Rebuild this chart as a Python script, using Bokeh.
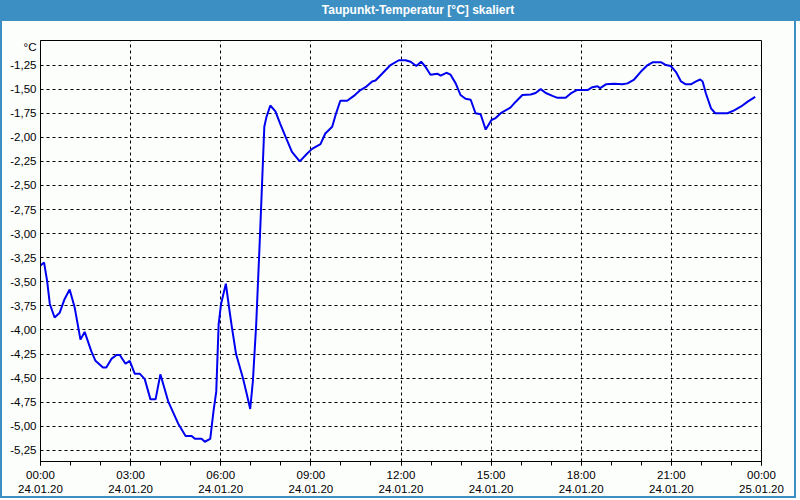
import pandas as pd
from bokeh.plotting import figure
from bokeh.models import (Range1d, FixedTicker, DatetimeTickFormatter, Div)
from bokeh.layouts import column
from bokeh.embed import file_html
from bokeh.resources import INLINE

title_text = "Taupunkt-Temperatur [°C] skaliert"
unit_text = "°C"
start_day = "2020-01-24"

hours = [0.00, 0.12, 0.22, 0.31, 0.47, 0.64, 0.80, 0.97, 1.14, 1.33, 1.47, 1.69, 1.83, 2.08, 2.19,
         2.36, 2.53, 2.64, 2.83, 2.97, 3.14, 3.31, 3.47, 3.66, 3.83, 3.99, 4.25, 4.58, 4.83, 5.03,
         5.14, 5.36, 5.47, 5.65, 5.76, 5.85, 5.93, 6.01, 6.17, 6.26, 6.37, 6.51, 6.74, 6.87, 6.98,
         7.07, 7.18, 7.29, 7.37, 7.45, 7.52, 7.65, 7.82, 7.98, 8.18, 8.37, 8.63, 8.87, 9.04, 9.32,
         9.48, 9.71, 9.82, 9.98, 10.21, 10.43, 10.65, 10.82, 11.04, 11.15, 11.37, 11.65, 11.93, 12.15,
         12.32, 12.51, 12.67, 12.82, 12.98, 13.21, 13.32, 13.51, 13.65, 13.82, 13.98, 14.15, 14.32,
         14.48, 14.65, 14.82, 15.01, 15.15, 15.32, 15.65, 15.82, 16.04, 16.32, 16.48, 16.65, 16.82,
         17.04, 17.21, 17.48, 17.65, 17.85, 18.21, 18.37, 18.54, 18.63, 18.82, 19.09, 19.37, 19.54,
         19.76, 19.98, 20.21, 20.39, 20.65, 20.82, 20.98, 21.15, 21.32, 21.48, 21.65, 21.82, 21.96,
         22.04, 22.15, 22.32, 22.46, 22.87, 23.09, 23.32, 23.54, 23.79]

dewpoint = [-3.33, -3.30, -3.49, -3.73, -3.87, -3.82, -3.68, -3.58, -3.77, -4.10, -4.02, -4.22, -4.32, -4.39, -4.39,
            -4.30, -4.26, -4.26, -4.35, -4.32, -4.455, -4.455, -4.51, -4.72, -4.72, -4.46, -4.74, -4.97, -5.10, -5.10,
            -5.13, -5.13, -5.16, -5.13, -4.84, -4.64, -3.94, -3.73, -3.52, -3.73, -3.97, -4.25, -4.50, -4.67, -4.82,
            -4.53, -3.94, -3.14, -2.52, -1.89, -1.79, -1.67, -1.73, -1.86, -2.01, -2.15, -2.25, -2.17, -2.12, -2.07,
            -1.96, -1.89, -1.77, -1.62, -1.62, -1.57, -1.51, -1.48, -1.42, -1.41, -1.34, -1.25, -1.20, -1.20,
            -1.215, -1.26, -1.215, -1.27, -1.35, -1.34, -1.36, -1.33, -1.35, -1.44, -1.56, -1.60, -1.61,
            -1.75, -1.76, -1.92, -1.82, -1.80, -1.75, -1.69, -1.63, -1.56, -1.555, -1.54, -1.50, -1.54,
            -1.57, -1.59, -1.59, -1.545, -1.51, -1.51, -1.48, -1.47, -1.49, -1.45, -1.445, -1.45, -1.44,
            -1.40, -1.32, -1.25, -1.22, -1.22, -1.25, -1.26, -1.32, -1.42, -1.45, -1.45, -1.42, -1.40,
            -1.42, -1.545, -1.70, -1.75, -1.75, -1.72, -1.68, -1.63, -1.58]

y_ticks = [-5.25, -5.00, -4.75, -4.50, -4.25, -4.00, -3.75, -3.50, -3.25, -3.00, -2.75, -2.50,
           -2.25, -2.00, -1.75, -1.50, -1.25]
y_tick_labels = ["-5,25", "-5,00", "-4,75", "-4,50", "-4,25", "-4,00", "-3,75", "-3,50", "-3,25",
                 "-3,00", "-2,75", "-2,50", "-2,25", "-2,00", "-1,75", "-1,50", "-1,25"]
unit_tick = -1.06
x_major_hours = [0, 3, 6, 9, 12, 15, 18, 21, 24]
x_minor_hours = list(range(0, 25))

base = pd.Timestamp(start_day)
times = [base + pd.Timedelta(hours=h) for h in hours]

def ms(h):
    return (base + pd.Timedelta(hours=h)).value / 1e6

FONT = "Liberation Sans"
BG = "#fcfefc"
BLUE_BAR = "#3c8fc3"

p = figure(width=796, height=477, x_axis_type="datetime", output_backend="svg",
           toolbar_location=None, margin=0,
           x_range=Range1d(ms(0), ms(24)), y_range=Range1d(-5.365, -0.995),
           min_border_left=38, min_border_right=37, min_border_top=19, min_border_bottom=37,
           background_fill_color=BG, border_fill_color=BG,
           styles={"border-left": f"2px solid {BLUE_BAR}", "border-right": f"2px solid {BLUE_BAR}",
                   "border-bottom": f"2px solid {BLUE_BAR}"})

p.line(times, dewpoint, line_color="#0000f0", line_width=2)

p.outline_line_color = "black"
p.outline_line_width = 1

# x axis
xt = FixedTicker(ticks=[ms(h) for h in x_major_hours], minor_ticks=[ms(h) for h in x_minor_hours])
p.xaxis.ticker = xt
fmt = "%H:%M\n%d.%m.%y"
p.xaxis.formatter = DatetimeTickFormatter(milliseconds=fmt, seconds=fmt, minsec=fmt, minutes=fmt,
                                          hourmin=fmt, hours=fmt, days=fmt, months=fmt, years=fmt,
                                          context=None)
p.xaxis.major_tick_out = 4
p.xaxis.major_tick_in = 0
p.xaxis.minor_tick_out = 4
p.xaxis.minor_tick_in = 0
p.xaxis.major_label_standoff = 3
p.xaxis.major_label_text_font = FONT
p.xaxis.major_label_text_font_size = "11.5px"
p.xaxis.major_label_text_color = "black"
p.xaxis.axis_line_color = "black"
p.xaxis.major_tick_line_color = "black"
p.xaxis.minor_tick_line_color = "black"

# y axis (the unit sign sits on an extra tick above the top grid line)
p.yaxis.ticker = FixedTicker(ticks=y_ticks + [unit_tick], minor_ticks=[])
overrides = {t: l for t, l in zip(y_ticks, y_tick_labels)}
overrides[unit_tick] = unit_text
p.yaxis.major_label_overrides = overrides
p.yaxis.major_tick_out = 0
p.yaxis.major_tick_in = 0
p.yaxis.minor_tick_out = 0
p.yaxis.minor_tick_in = 0
p.yaxis.major_label_standoff = 4
p.yaxis.major_label_text_font = FONT
p.yaxis.major_label_text_font_size = "11.5px"
p.yaxis.major_label_text_color = "black"
p.yaxis.axis_line_color = "black"

# grid
p.xgrid.ticker = FixedTicker(ticks=[ms(h) for h in x_major_hours])
for g in (p.xgrid, p.ygrid):
    g.grid_line_color = "black"
    g.grid_line_dash = "3 3"
    g.grid_line_width = 1
p.ygrid.ticker = FixedTicker(ticks=y_ticks)

title = Div(text=title_text, width=800, height=21, margin=0,
            styles={"background-color": BLUE_BAR, "color": "white", "font-weight": "bold",
                    "font-family": FONT, "font-size": "12px", "line-height": "21px",
                    "text-align": "center", "padding-left": "36px", "box-sizing": "border-box"})

layout = column(title, p, spacing=0, margin=0, styles={"background-color": BG})

open("out.html", "w").write(file_html(layout, INLINE))
